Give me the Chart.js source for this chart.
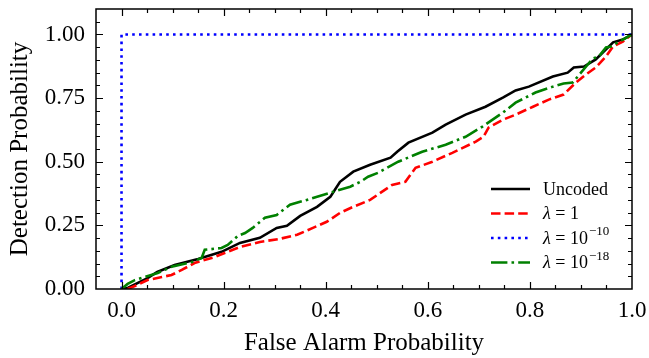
<!DOCTYPE html>
<html>
<head>
<meta charset="utf-8">
<script src="https://cdn.jsdelivr.net/npm/chart.js@4"></script>
<style>
  body { margin: 0; background: #fff; }
  #wrap { width: 649px; height: 358px; }
</style>
</head>
<body>
<div id="wrap"><canvas id="roc" width="649" height="358"></canvas></div>
<script>
const xTicks = [0, 0.2, 0.4, 0.6, 0.8, 1.0];
const yTicks = [0, 0.25, 0.5, 0.75, 1.0];

const uncodedX = [0, 0.012, 0.051, 0.07, 0.104, 0.15, 0.196, 0.232, 0.271, 0.304, 0.324, 0.35, 0.383, 0.409, 0.418, 0.428, 0.454, 0.487, 0.527, 0.54, 0.562, 0.609, 0.635, 0.674, 0.713, 0.747, 0.772, 0.798, 0.845, 0.874, 0.886, 0.906, 0.929, 0.963, 0.982, 1.0];
const uncodedY = [0, 0.004, 0.043, 0.067, 0.094, 0.118, 0.146, 0.181, 0.201, 0.24, 0.248, 0.287, 0.323, 0.362, 0.39, 0.421, 0.461, 0.488, 0.516, 0.539, 0.575, 0.614, 0.646, 0.685, 0.716, 0.752, 0.78, 0.795, 0.835, 0.85, 0.87, 0.874, 0.902, 0.969, 0.98, 1.0];

const lam1X = [0.012, 0.026, 0.051, 0.079, 0.098, 0.118, 0.143, 0.183, 0.232, 0.271, 0.31, 0.344, 0.375, 0.402, 0.428, 0.454, 0.487, 0.53, 0.556, 0.576, 0.609, 0.648, 0.694, 0.709, 0.719, 0.747, 0.772, 0.806, 0.837, 0.866, 0.89, 0.91, 0.929, 0.949, 0.963, 0.982, 1.0];
const lam1Y = [0, 0.012, 0.035, 0.047, 0.055, 0.075, 0.102, 0.126, 0.165, 0.185, 0.197, 0.213, 0.24, 0.264, 0.299, 0.323, 0.35, 0.409, 0.421, 0.476, 0.5, 0.535, 0.579, 0.598, 0.634, 0.665, 0.685, 0.716, 0.744, 0.764, 0.811, 0.843, 0.87, 0.913, 0.953, 0.972, 1.0];

const lam10X = [0, 0, 1.0];
const lam10Y = [0, 1.0, 1.0];

const lam18X = [0, 0.012, 0.026, 0.045, 0.071, 0.098, 0.138, 0.157, 0.163, 0.196, 0.208, 0.228, 0.242, 0.257, 0.281, 0.304, 0.33, 0.363, 0.415, 0.448, 0.468, 0.483, 0.503, 0.542, 0.589, 0.635, 0.674, 0.707, 0.747, 0.772, 0.811, 0.845, 0.866, 0.884, 0.9, 0.923, 0.935, 0.949, 0.959, 0.982, 1.0];
const lam18Y = [0, 0.02, 0.035, 0.047, 0.063, 0.087, 0.106, 0.122, 0.154, 0.161, 0.173, 0.209, 0.22, 0.24, 0.28, 0.291, 0.331, 0.35, 0.382, 0.402, 0.421, 0.441, 0.457, 0.5, 0.539, 0.567, 0.598, 0.638, 0.693, 0.732, 0.772, 0.795, 0.807, 0.811, 0.85, 0.905, 0.913, 0.949, 0.953, 0.98, 1.0];

const serif = "'Liberation Serif', 'DejaVu Serif', serif";

const pts = (xs, ys) => xs.map((x, i) => ({ x: x, y: ys[i] }));

// inward ticks on all four sides + the box
const frameTicks = {
  id: "frameTicks",
  afterDatasetsDraw(chart) {
    const { ctx, chartArea: a, scales: { x, y } } = chart;
    ctx.save();
    ctx.strokeStyle = "#000";
    ctx.lineWidth = 1.2;
    ctx.beginPath();
    for (let i = -1; i <= 20; i++) {
      const v = i * 0.05;
      const len = i >= 0 && i % 4 === 0 ? 7 : 4;
      const px = Math.round(x.getPixelForValue(v)) + 0.5;
      if (px < a.left + 1 || px > a.right - 1) continue;
      ctx.moveTo(px, a.bottom); ctx.lineTo(px, a.bottom - len);
      ctx.moveTo(px, a.top); ctx.lineTo(px, a.top + len);
    }
    for (let i = 0; i <= 22; i++) {
      const v = i * 0.05;
      const len = i % 5 === 0 ? 7 : 4;
      const py = Math.round(y.getPixelForValue(v)) + 0.5;
      if (py < a.top + 1 || py > a.bottom - 1) continue;
      ctx.moveTo(a.left, py); ctx.lineTo(a.left + len, py);
      ctx.moveTo(a.right, py); ctx.lineTo(a.right - len, py);
    }
    ctx.stroke();
    ctx.lineWidth = 1.5;
    ctx.strokeRect(a.left, a.top, a.right - a.left, a.bottom - a.top);
    ctx.restore();
  },
};

// legend in the lower right corner, exponents written as ^
const cornerLegend = {
  id: "cornerLegend",
  afterDatasetsDraw(chart) {
    const { ctx, chartArea: a } = chart;
    ctx.save();
    chart.data.datasets.forEach((ds, i) => {
      const yy = a.bottom - 100 + i * 24.5;
      ctx.beginPath();
      ctx.strokeStyle = ds.borderColor;
      ctx.lineWidth = ds.borderWidth;
      ctx.setLineDash(ds.borderDash || []);
      ctx.moveTo(a.right - 141, yy);
      ctx.lineTo(a.right - 102, yy);
      ctx.stroke();
      ctx.setLineDash([]);

      ctx.fillStyle = "#000";
      ctx.textBaseline = "middle";
      let tx = a.right - 89;
      const [base, exp] = ds.label.split("^");
      let rest = base;
      if (base.startsWith("λ")) {
        ctx.font = "italic 18px " + serif;
        ctx.fillText("λ", tx, yy + 1);
        tx += ctx.measureText("λ").width;
        rest = base.slice(1);
      }
      ctx.font = "18px " + serif;
      ctx.fillText(rest, tx, yy + 1);
      tx += ctx.measureText(rest).width;
      if (exp) {
        ctx.font = "13px " + serif;
        ctx.fillText(exp, tx + 1, yy - 6);
      }
    });
    ctx.restore();
  },
};

new Chart(document.getElementById("roc"), {
  type: "scatter",
  data: {
    datasets: [
      {
        label: "Uncoded",
        data: pts(uncodedX, uncodedY),
        borderColor: "#000000",
        borderWidth: 2.6,
        order: 4,
      },
      {
        label: "λ = 1",
        data: pts(lam1X, lam1Y),
        borderColor: "#ff0000",
        borderWidth: 2.6,
        borderDash: [9.5, 4.1],
        order: 3,
      },
      {
        label: "λ = 10^−10",
        data: pts(lam10X, lam10Y),
        borderColor: "#0000ff",
        borderWidth: 2.6,
        borderDash: [2.6, 4.2],
        order: 2,
      },
      {
        label: "λ = 10^−18",
        data: pts(lam18X, lam18Y),
        borderColor: "#008000",
        borderWidth: 2.6,
        borderDash: [16.4, 4.1, 2.6, 4.1],
        order: 1,
      },
    ].map((d) => Object.assign(d, { showLine: true, pointRadius: 0, tension: 0, fill: false })),
  },
  plugins: [frameTicks, cornerLegend],
  options: {
    responsive: false,
    animation: false,
    events: [],
    layout: { padding: { top: 9, right: 17, left: 0, bottom: 0 } },
    plugins: {
      legend: { display: false },
      tooltip: { enabled: false },
    },
    scales: {
      x: {
        type: "linear",
        min: -0.05,
        max: 1.0,
        grid: { display: false, drawTicks: false },
        border: { display: false },
        afterBuildTicks: (s) => { s.ticks = xTicks.map((v) => ({ value: v })); },
        afterFit: (s) => {
          s.height = 69;
          s.paddingLeft = 0;
          s.paddingRight = 0;
        },
        ticks: {
          color: "#000",
          padding: 8,
          maxRotation: 0,
          autoSkip: false,
          font: { family: serif, size: 23 },
          callback: (v) => Number(v).toFixed(1),
        },
        title: {
          display: true,
          text: "False Alarm Probability",
          color: "#000",
          font: { family: serif, size: 25, lineHeight: 1.2 },
          padding: { top: 0, bottom: 0 },
        },
      },
      y: {
        type: "linear",
        min: 0,
        max: 1.1,
        grid: { display: false, drawTicks: false },
        border: { display: false },
        afterBuildTicks: (s) => { s.ticks = yTicks.map((v) => ({ value: v })); },
        afterFit: (s) => {
          s.width = 96;
          s.paddingTop = 0;
          s.paddingBottom = 0;
        },
        ticks: {
          color: "#000",
          padding: 11,
          autoSkip: false,
          font: { family: serif, size: 23 },
          callback: (v) => Number(v).toFixed(2),
        },
        title: {
          display: true,
          text: "Detection Probability",
          color: "#000",
          font: { family: serif, size: 25, lineHeight: 1.2 },
          padding: { top: 5, bottom: 0 },
        },
      },
    },
  },
});
</script>
</body>
</html>
